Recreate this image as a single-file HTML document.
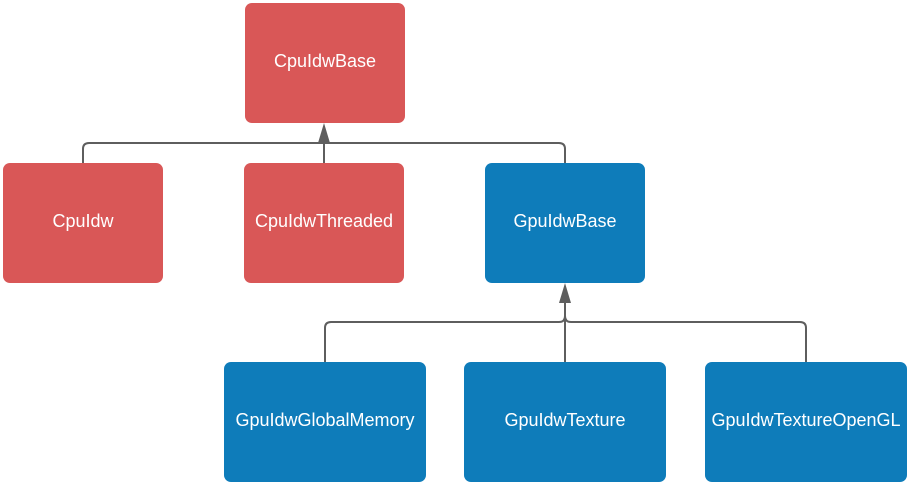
<!DOCTYPE html>
<html><head><style>
body{margin:0;width:911px;height:492px;background:#fff;position:relative;font-family:"Liberation Sans",sans-serif;overflow:hidden}
.b{position:absolute;border-radius:7px;color:#fff;font-size:18px;display:flex;align-items:center;justify-content:center;box-sizing:border-box;padding-bottom:3px}
.r{background:#d95757}.u{background:#0e7cba}
svg{position:absolute;left:0;top:0}
</style></head><body>
<svg width="911" height="492">
<g fill="none" stroke="#5e5e5e" stroke-width="2">
<path d="M83 163 V149 Q83 143 89 143 H559 Q565 143 565 149 V163"/>
<path d="M324 163 V135"/>
<path d="M325 362 V328 Q325 322 331 322 H559 Q565 322 565 316"/>
<path d="M806 362 V328 Q806 322 800 322 H571 Q565 322 565 316"/>
<path d="M565 362 V295"/>
</g>
<path d="M324 123 L318 143 H330 Z" fill="#5e5e5e"/>
<path d="M565 283 L559 303 H571 Z" fill="#5e5e5e"/>
</svg>
<div class="b r" style="left:245px;top:3px;width:160px;height:120px">CpuIdwBase</div>
<div class="b r" style="left:3px;top:163px;width:160px;height:120px">CpuIdw</div>
<div class="b r" style="left:244px;top:163px;width:160px;height:120px">CpuIdwThreaded</div>
<div class="b u" style="left:485px;top:163px;width:160px;height:120px">GpuIdwBase</div>
<div class="b u" style="left:224px;top:362px;width:202px;height:120px">GpuIdwGlobalMemory</div>
<div class="b u" style="left:464px;top:362px;width:202px;height:120px">GpuIdwTexture</div>
<div class="b u" style="left:705px;top:362px;width:202px;height:120px">GpuIdwTextureOpenGL</div>
</body></html>
